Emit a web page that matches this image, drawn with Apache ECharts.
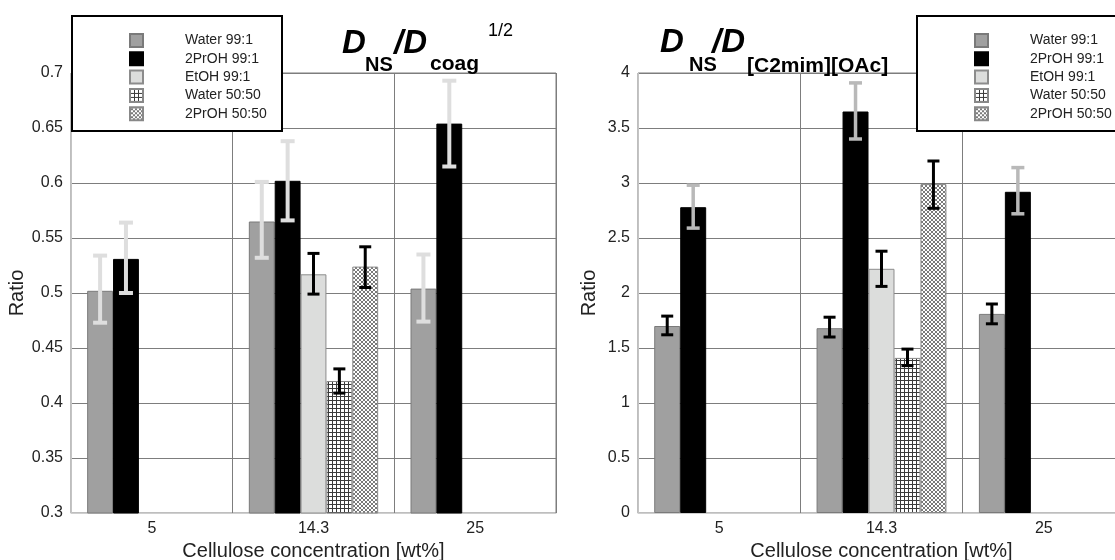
<!DOCTYPE html>
<html>
<head>
<meta charset="utf-8">
<script src="https://cdn.jsdelivr.net/npm/echarts@6/dist/echarts.min.js"></script>
<style>
html,body{margin:0;padding:0;background:#fff;}
#chart{width:1115px;height:560px;}
</style>
</head>
<body>
<div id="chart"></div>
<script>
// ---------- DATA ----------
const categories = ['5', '14.3', '25'];
const seriesNames = ['Water 99:1', '2PrOH 99:1', 'EtOH 99:1', 'Water 50:50', '2PrOH 50:50'];

// Left chart: D_NS / D_coag^1/2
const yTicksLeft = { min: 0.3, max: 0.7, interval: 0.05 };
const coagWater991 = [0.502, 0.565, 0.504];
const coagWater991Lo = [0.473, 0.532, 0.474];
const coagWater991Hi = [0.534, 0.601, 0.535];
const coagPrOH991 = [0.531, 0.602, 0.654];
const coagPrOH991Lo = [0.500, 0.566, 0.615];
const coagPrOH991Hi = [0.564, 0.638, 0.693];
const coagEtOH991 = [null, 0.517, null];
const coagEtOH991Lo = [null, 0.499, null];
const coagEtOH991Hi = [null, 0.536, null];
const coagWater5050 = [null, 0.420, null];
const coagWater5050Lo = [null, 0.409, null];
const coagWater5050Hi = [null, 0.431, null];
const coagPrOH5050 = [null, 0.524, null];
const coagPrOH5050Lo = [null, 0.505, null];
const coagPrOH5050Hi = [null, 0.542, null];

// Right chart: D_NS / D_[C2mim][OAc]
const yTicksRight = { min: 0, max: 4, interval: 0.5 };
const ilWater991 = [1.70, 1.68, 1.81];
const ilWater991Lo = [1.62, 1.60, 1.72];
const ilWater991Hi = [1.79, 1.78, 1.90];
const ilPrOH991 = [2.78, 3.65, 2.92];
const ilPrOH991Lo = [2.59, 3.40, 2.72];
const ilPrOH991Hi = [2.98, 3.91, 3.14];
const ilEtOH991 = [null, 2.22, null];
const ilEtOH991Lo = [null, 2.06, null];
const ilEtOH991Hi = [null, 2.38, null];
const ilWater5050 = [null, 1.41, null];
const ilWater5050Lo = [null, 1.34, null];
const ilWater5050Hi = [null, 1.49, null];
const ilPrOH5050 = [null, 2.99, null];
const ilPrOH5050Lo = [null, 2.77, null];
const ilPrOH5050Hi = [null, 3.20, null];

const xAxisName = 'Cellulose concentration [wt%]';
const yAxisName = 'Ratio';

// ---------- STYLE ----------
const FONT = '"Liberation Sans", Arial, sans-serif';
const TXT = '#222';
const GRIDC = '#7d7d7d';

function makeGridPattern() {
  const c = document.createElement('canvas');
  c.width = 4; c.height = 4;
  const g = c.getContext('2d');
  g.fillStyle = '#fff'; g.fillRect(0, 0, 4, 4);
  g.fillStyle = '#3a3a3a';
  g.fillRect(0, 0, 4, 1);
  g.fillRect(0, 0, 1, 4);
  return c;
}
function makeHatchPattern() {
  const c = document.createElement('canvas');
  c.width = 4; c.height = 4;
  const g = c.getContext('2d');
  g.fillStyle = '#fff'; g.fillRect(0, 0, 4, 4);
  g.fillStyle = '#7a7a7a';
  const px = [[0,0],[1,1],[2,2],[3,3],[0,3],[1,2],[2,1],[3,0]];
  px.forEach(p => g.fillRect(p[0], p[1], 1, 1));
  return c;
}
const gridPat = makeGridPattern();
const hatchPat = makeHatchPattern();

const barStyles = [
  { color: '#a0a0a0', borderColor: '#7a7a7a', borderWidth: 1 },
  { color: '#000000', borderColor: '#000000', borderWidth: 1 },
  { color: '#dcdddc', borderColor: '#8c8c8c', borderWidth: 1 },
  { color: { image: gridPat, repeat: 'repeat' }, borderColor: '#888', borderWidth: 1 },
  { color: { image: hatchPat, repeat: 'repeat' }, borderColor: '#888', borderWidth: 1 }
];

const leftSets = [
  [coagWater991, coagWater991Lo, coagWater991Hi],
  [coagPrOH991, coagPrOH991Lo, coagPrOH991Hi],
  [coagEtOH991, coagEtOH991Lo, coagEtOH991Hi],
  [coagWater5050, coagWater5050Lo, coagWater5050Hi],
  [coagPrOH5050, coagPrOH5050Lo, coagPrOH5050Hi]
];
const rightSets = [
  [ilWater991, ilWater991Lo, ilWater991Hi],
  [ilPrOH991, ilPrOH991Lo, ilPrOH991Hi],
  [ilEtOH991, ilEtOH991Lo, ilEtOH991Hi],
  [ilWater5050, ilWater5050Lo, ilWater5050Hi],
  [ilPrOH5050, ilPrOH5050Lo, ilPrOH5050Hi]
];
const leftErr = [
  { c: '#dedede', w: 4, cap: 14 },
  { c: '#dedede', w: 4, cap: 14 },
  { c: '#000', w: 3, cap: 12 },
  { c: '#000', w: 3, cap: 12 },
  { c: '#000', w: 3, cap: 12 }
];
const rightErr = [
  { c: '#000', w: 3, cap: 12 },
  { c: '#b9b9b9', w: 3.5, cap: 13 },
  { c: '#000', w: 3, cap: 12 },
  { c: '#000', w: 3, cap: 12 },
  { c: '#000', w: 3, cap: 12 }
];

function errRender(pos, st) {
  return function (params, api) {
    const cat = api.value(0);
    const pLo = api.coord([cat, api.value(1)]);
    const pHi = api.coord([cat, api.value(2)]);
    const bw = api.size([1, 0])[0] * 0.8 / 5;
    const x = pLo[0] + (pos - 2) * bw;
    const s = { stroke: st.c, lineWidth: st.w };
    const h = st.cap / 2;
    return {
      type: 'group',
      children: [
        { type: 'line', shape: { x1: x, y1: pHi[1], x2: x, y2: pLo[1] }, style: s },
        { type: 'line', shape: { x1: x - h, y1: pHi[1], x2: x + h, y2: pHi[1] }, style: s },
        { type: 'line', shape: { x1: x - h, y1: pLo[1], x2: x + h, y2: pLo[1] }, style: s }
      ]
    };
  };
}

const series = [];
[[leftSets, leftErr, 0], [rightSets, rightErr, 1]].forEach(([sets, errs, gi]) => {
  sets.forEach((set, i) => {
    series.push({
      type: 'bar', name: seriesNames[i], xAxisIndex: gi, yAxisIndex: gi,
      data: set[0], barGap: '0%', barCategoryGap: '20%',
      itemStyle: barStyles[i], z: 2, silent: true
    });
  });
  sets.forEach((set, i) => {
    const d = [];
    set[0].forEach((v, k) => { if (v != null) d.push([k, set[1][k], set[2][k]]); });
    series.push({
      type: 'custom', xAxisIndex: gi, yAxisIndex: gi, z: 3, silent: true,
      renderItem: errRender(i, errs[i]), encode: { x: 0, y: [1, 2] }, data: d
    });
  });
});

function xAxisCfg(gi) {
  return {
    type: 'category', gridIndex: gi, data: categories, boundaryGap: true,
    axisLine: { show: true, lineStyle: { color: '#cfcfcf', width: 1 } },
    axisTick: { show: false },
    axisLabel: { color: TXT, fontFamily: FONT, fontSize: 16, margin: 8 },
    splitLine: { show: true, lineStyle: { color: GRIDC, width: 1 } },
    name: xAxisName, nameLocation: 'middle', nameGap: 28,
    nameTextStyle: { color: TXT, fontFamily: FONT, fontSize: 20 }
  };
}
function yAxisCfg(gi, t) {
  return {
    type: 'value', gridIndex: gi, min: t.min, max: t.max, interval: t.interval,
    axisLine: { show: true, lineStyle: { color: '#c4c4c4', width: 1 } },
    axisTick: { show: false },
    axisLabel: { color: TXT, fontFamily: FONT, fontSize: 16, margin: 8 },
    splitLine: { show: true, lineStyle: { color: GRIDC, width: 1 } },
    name: yAxisName, nameLocation: 'middle', nameGap: 39, nameRotate: 90,
    nameTextStyle: { color: TXT, fontFamily: FONT, fontSize: 20 }
  };
}
function legendCfg(left) {
  return {
    data: seriesNames, orient: 'vertical', left: left, top: 33,
    itemWidth: 13, itemHeight: 13, itemGap: 3.3, padding: 0,
    selectedMode: false, icon: 'rect', z: 10,
    textStyle: { color: TXT, fontFamily: FONT, fontSize: 14, padding: [0, 0, 0, 37] }
  };
}
function titleText(x, baseline, text, size, bold, italic) {
  return {
    type: 'text', x: x, y: baseline, z: 20, silent: true,
    style: {
      text: text, fill: '#000', fontFamily: FONT, fontSize: size,
      fontWeight: bold ? 'bold' : 'normal', fontStyle: italic ? 'italic' : 'normal',
      verticalAlign: 'bottom', align: 'left'
    }
  };
}

const chart = echarts.init(document.getElementById('chart'), null, { renderer: 'canvas' });
chart.setOption({
  animation: false,
  backgroundColor: '#fff',
  grid: [
    { left: 71, top: 73, width: 485, height: 440, show: true, borderColor: GRIDC, borderWidth: 1,
      containLabel: false, outerBoundsMode: 'none' },
    { left: 638, top: 73, width: 487, height: 440, show: true, borderColor: GRIDC, borderWidth: 1,
      containLabel: false, outerBoundsMode: 'none' }
  ],
  xAxis: [xAxisCfg(0), xAxisCfg(1)],
  yAxis: [yAxisCfg(0, yTicksLeft), yAxisCfg(1, yTicksRight)],
  legend: [legendCfg(129), legendCfg(974)],
  series: series,
  graphic: [
    { type: 'rect', shape: { x: 72, y: 16, width: 210, height: 115 }, z: 8, silent: true,
      style: { fill: '#fff', stroke: '#000', lineWidth: 2 } },
    { type: 'rect', shape: { x: 917, y: 16, width: 220, height: 115 }, z: 8, silent: true,
      style: { fill: '#fff', stroke: '#000', lineWidth: 2 } },
    titleText(342, 60, 'D', 33, true, true),
    titleText(365, 75, 'NS', 20, true, false),
    titleText(394, 60, '/D', 33, true, true),
    titleText(430, 75, 'coag', 21, true, false),
    titleText(488, 40, '1/2', 18, false, false),
    titleText(660, 59, 'D', 33, true, true),
    titleText(689, 75, 'NS', 20, true, false),
    titleText(712, 59, '/D', 33, true, true),
    titleText(747, 77, '[C2mim][OAc]', 21, true, false)
  ]
});
</script>
</body>
</html>
